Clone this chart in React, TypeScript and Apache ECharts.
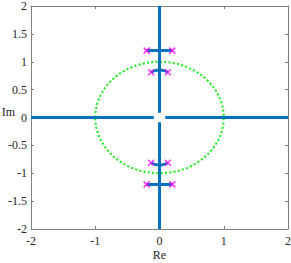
import React, { useEffect, useRef } from "react";
import * as echarts from "echarts";

const xTicks = [-2, -1, 0, 1, 2];
const yTicks = [-2, -1.5, -1, -0.5, 0, 0.5, 1, 1.5, 2];
const realLeft = [[-2, 0], [-0.09, 0]];
const realRight = [[0.09, 0], [2, 0]];
const imagTop = [[0, 0.085], [0, 2]];
const imagBottom = [[0, -0.085], [0, -2]];
const barTop = [[-0.2, 1.2], [0.2, 1.2]];
const barBottom = [[-0.2, -1.2], [0.2, -1.2]];
const arcTop = [[-0.13, 0.81], [-0.07, 0.84], [0, 0.85], [0.07, 0.84], [0.13, 0.81]];
const arcBottom = [[-0.13, -0.81], [-0.07, -0.84], [0, -0.85], [0.07, -0.84], [0.13, -0.81]];
const poles = [[-0.2, 1.2], [0.2, 1.2], [-0.2, -1.2], [0.2, -1.2], [-0.13, 0.81], [0.13, 0.81], [-0.13, -0.81], [0.13, -0.81]];
const unitCircle = [[0, 0, 1]];

const BLUE = "#0072BD";
const FONT = "Times New Roman";

export default function App() {
  const ref = useRef<HTMLDivElement>(null);
  useEffect(() => {
    const chart = echarts.init(ref.current!, null, { renderer: "svg" });
    const blueLine = (data: number[][], smooth = false) => ({
      type: "line",
      data,
      showSymbol: false,
      smooth,
      lineStyle: { color: BLUE, width: 3 },
      z: 3,
    });
    const axisCommon = {
      type: "value",
      min: -2,
      max: 2,
      axisLine: { show: true, onZero: false, lineStyle: { color: "#808080", width: 1 } },
      axisTick: { show: true, inside: true, length: 3, lineStyle: { color: "#808080" } },
      splitLine: { show: false },
    };
    const label = { fontFamily: FONT, fontSize: 12, color: "#262626" };
    chart.setOption({
      animation: false,
      textStyle: { fontFamily: FONT },
      grid: { left: 31, right: 3, top: 6, bottom: 34, containLabel: false, outerBoundsMode: "none" },
      xAxis: [
        {
          ...axisCommon,
          interval: 1,
          position: "bottom",
          name: "Re",
          nameLocation: "middle",
          nameGap: 20,
          nameMoveOverlap: false,
          nameTextStyle: { ...label },
          axisLabel: { ...label, margin: 6 },
        },
        { ...axisCommon, interval: 1, position: "top", axisLabel: { show: false } },
      ],
      yAxis: [
        {
          ...axisCommon,
          interval: 0.5,
          position: "left",
          name: "Im",
          nameLocation: "middle",
          nameGap: 16,
          nameRotate: 0,
          nameMoveOverlap: false,
          nameTextStyle: { ...label, verticalAlign: "bottom" },
          axisLabel: { ...label, margin: 4 },
        },
        { ...axisCommon, interval: 0.5, position: "right", axisLabel: { show: false } },
      ],
      series: [
        {
          type: "custom",
          data: unitCircle,
          z: 2,
          renderItem: (params: any, api: any) => {
            const c = api.coord([api.value(0), api.value(1)]);
            const s = api.size([api.value(2), api.value(2)]);
            return {
              type: "ellipse",
              shape: { cx: c[0], cy: c[1], rx: s[0], ry: s[1] },
              style: { fill: "none", stroke: "#11ee11", lineWidth: 2, lineDash: [2, 2.3] },
            };
          },
        },
        blueLine(realLeft),
        blueLine(realRight),
        blueLine(imagTop),
        blueLine(imagBottom),
        blueLine(barTop),
        blueLine(barBottom),
        blueLine(arcTop, true),
        blueLine(arcBottom, true),
        {
          type: "scatter",
          data: poles,
          symbol: "path://M0,0L10,10M10,0L0,10",
          symbolSize: 6,
          itemStyle: { color: "none", borderColor: "#ff00ff", borderWidth: 1.5 },
          z: 4,
        },
      ],
    });
    return () => chart.dispose();
  }, []);
  return <div ref={ref} style={{ width: 291, height: 263, position: "absolute", left: 0, top: 0 }} />;
}
